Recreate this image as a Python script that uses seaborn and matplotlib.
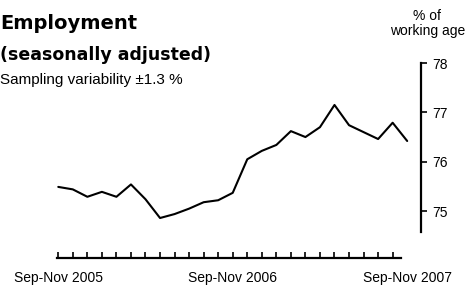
import matplotlib
matplotlib.use("Agg")
import matplotlib.pyplot as plt
import seaborn as sns
import pandas as pd
import numpy as np

# ---- data ----
periods = ["Sep-Nov 2005", "Oct-Dec 2005", "Nov-Jan 2006", "Dec-Feb 2006", "Jan-Mar 2006",
           "Feb-Apr 2006", "Mar-May 2006", "Apr-Jun 2006", "May-Jul 2006", "Jun-Aug 2006",
           "Jul-Sep 2006", "Aug-Oct 2006", "Sep-Nov 2006", "Oct-Dec 2006", "Nov-Jan 2007",
           "Dec-Feb 2007", "Jan-Mar 2007", "Feb-Apr 2007", "Mar-May 2007", "Apr-Jun 2007",
           "May-Jul 2007", "Jun-Aug 2007", "Jul-Sep 2007", "Aug-Oct 2007", "Sep-Nov 2007"]
employment_rate = [75.49, 75.44, 75.29, 75.39, 75.29, 75.54, 75.24, 74.86, 74.94, 75.05,
                   75.18, 75.22, 75.37, 76.05, 76.22, 76.34, 76.62, 76.50, 76.70, 77.15,
                   76.74, 76.60, 76.46, 76.79, 76.42]
shown_labels = ["Sep-Nov 2005", "Sep-Nov 2006", "Sep-Nov 2007"]
y_ticks = [75, 76, 77, 78]

title = "Employment"
subtitle = "(seasonally adjusted)"
note = "Sampling variability \u00b11.3 %"
unit_lines = ["% of", "working age"]

sns.set_style("white")
plt.rcParams['font.family'] = ['Liberation Sans', 'DejaVu Sans']
plt.rcParams['text.color'] = 'black'

df = pd.DataFrame({"idx": np.arange(len(periods)), "rate": employment_rate})

W, H = 468, 285
fig = plt.figure(figsize=(W / 100, H / 100), dpi=100)
ax = fig.add_axes([51 / W, 1 - 258 / H, 370 / W, 195 / H])

sns.lineplot(data=df, x="idx", y="rate", ax=ax, color="black", linewidth=1.5)

ax.set_xlim(-0.5, 24.95)
ax.set_ylim(74.05, 78.0)
ax.set_xlabel("")
ax.set_ylabel("")

# spines
for s in ["top", "left"]:
    ax.spines[s].set_visible(False)
ax.spines["right"].set_visible(True)
ax.spines["bottom"].set_visible(True)
for s in ["right", "bottom"]:
    ax.spines[s].set_color("black")
    ax.spines[s].set_linewidth(1.6)
ax.spines["right"].set_bounds(74.57, 78.0)
ax.spines["bottom"].set_bounds(-0.07, 23.6)

# y axis on right
ax.yaxis.tick_right()
ax.set_yticks(y_ticks)
ax.set_yticklabels([str(t) for t in y_ticks])
ax.tick_params(axis="y", which="major", direction="out", length=4, width=1.2,
               pad=4, labelsize=10, colors="black", right=True, left=False)

# x axis
ax.set_xticks(np.arange(len(periods)))
ax.set_xticklabels([p if p in shown_labels else "" for p in periods])
ax.tick_params(axis="x", which="major", direction="in", length=4, width=1.2,
               pad=9.5, labelsize=10, colors="black", bottom=True)
ax.xaxis.get_major_ticks()[-1].tick1line.set_visible(False)

# texts
fig.text(0, 1 - 29.3 / H, title, fontsize=14.0, fontweight="bold",
         family="DejaVu Sans", va="baseline", ha="left", color="black")
fig.text(0, 1 - 59.5 / H, subtitle, fontsize=12.5, fontweight="bold",
         family="DejaVu Sans", va="baseline", ha="left", color="black")
fig.text(0, 1 - 84 / H, note, fontsize=11.0, va="baseline", ha="left", color="black")
fig.text(427 / W, 1 - 20 / H, unit_lines[0], fontsize=10, va="baseline", ha="center", color="black")
fig.text(428 / W, 1 - 35.5 / H, unit_lines[1], fontsize=10, va="baseline", ha="center", color="black")

fig.savefig("out.png", dpi=100)
